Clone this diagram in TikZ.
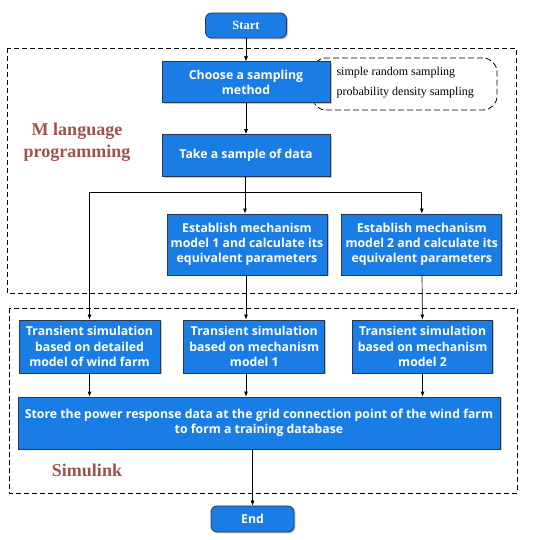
\documentclass[tikz,border=0pt]{standalone}
\usepackage{fontspec}
\setmainfont{Liberation Serif}
\newfontfamily\boxfont{Open Sans}
\usetikzlibrary{positioning}
\usetikzlibrary{shadows}
\usetikzlibrary{arrows.meta}

\definecolor{boxblue}{RGB}{26,125,230}
\definecolor{boxedge}{RGB}{40,55,75}
\definecolor{labelred}{RGB}{160,82,72}

\tikzset{
    block/.style={draw=boxedge, line width=0.8pt, fill=boxblue, text=white, align=center,
        font=\boxfont\bfseries\fontsize{12.3}{15.3}\selectfont, inner sep=1pt,
        drop shadow={shadow xshift=1.5pt, shadow yshift=-1.5pt, fill=black!45}},
    terminal/.style={block, rounded corners=6pt},
    frame/.style={draw, dash pattern=on 5pt off 3pt, line width=0.8pt},
    flow/.style={-{Latex[length=5pt,width=4pt]}, line width=0.7pt},
    sidelabel/.style={text=labelred, font=\bfseries\fontsize{18}{22}\selectfont, align=center}
}

\begin{document}
\begin{tikzpicture}[x=1pt, y=1pt]
    \useasboundingbox (0,0) rectangle (550,-540);

    % frames
    \draw[frame] (7,-48) rectangle (516,-293);
    \draw[frame] (9,-308) rectangle (517,-493);

    % main column
    \node[terminal, minimum width=81pt, minimum height=25pt, font=\bfseries\fontsize{12.5}{14}\selectfont] (start) at (246,-25.5) {Start};
    \node[draw, dash pattern=on 6pt off 3pt, rounded corners=14pt, line width=0.8pt, minimum width=185pt, minimum height=52pt] (methods) at (404.5,-84) {};
    \node[block, minimum width=168pt, minimum height=41pt, below=23pt of start] (choose) {Choose a sampling\\method};
    \node[block, minimum width=168pt, minimum height=42pt, below=31pt of choose] (sample) {Take a sample of data};
    \node[anchor=west, align=left, font=\fontsize{12}{20}\selectfont] (methodtext) at (333,-83) {simple random sampling\\probability density sampling};

    % mechanism models
    \node[block, minimum width=160pt, minimum height=61pt] (est1) at (247,-244.5) {Establish mechanism\\model 1 and calculate its\\equivalent parameters};
    \node[block, minimum width=160pt, minimum height=61pt, right=14pt of est1] (est2) {Establish mechanism\\model 2 and calculate its\\equivalent parameters};

    % simulations
    \node[block, minimum width=141pt, minimum height=53pt] (sim0) at (89.5,-346.5) {Transient simulation\\based on detailed\\model of wind farm};
    \node[block, minimum width=141pt, minimum height=53pt, right=23pt of sim0] (sim1) {Transient simulation\\based on mechanism\\model 1};
    \node[block, minimum width=140pt, minimum height=53pt, right=27pt of sim1] (sim2) {Transient simulation\\based on mechanism\\model 2};

    \node[block, minimum width=482pt, minimum height=52pt] (store) at (259,-423) {Store the power response data at the grid connection point of the wind farm\\to form a training database};
    \node[terminal, minimum width=83pt, minimum height=26pt] (end) at (252.5,-519) {End};

    \node[sidelabel] (mlabel) at (77,-142) {M language\\programming};
    \node[sidelabel] (slabel) at (87,-470) {Simulink};

    % connectors
    \coordinate (split) at (245,-192);
    \coordinate (midcol) at (246,0);
    \draw[flow] (start) -- (choose);
    \draw[flow] (choose) -- (sample);
    \draw (sample.south -| split) -- (split);
    \draw[flow] (split) -- (split |- est1.north);
    \draw[flow] (split) -| (sim0.north);
    \draw[flow] (split) -| (est2.north);
    \draw[flow] (est1.south -| midcol) -- (midcol |- sim1.north);
    \draw[flow] (est2) -- (sim2);
    \draw[flow] (sim0) -- (sim0 |- store.north);
    \draw[flow] (sim1.south -| midcol) -- (midcol |- store.north);
    \draw[flow] (sim2) -- (sim2 |- store.north);
    \draw[flow] (store.south -| end) -- (end);
\end{tikzpicture}
\end{document}
